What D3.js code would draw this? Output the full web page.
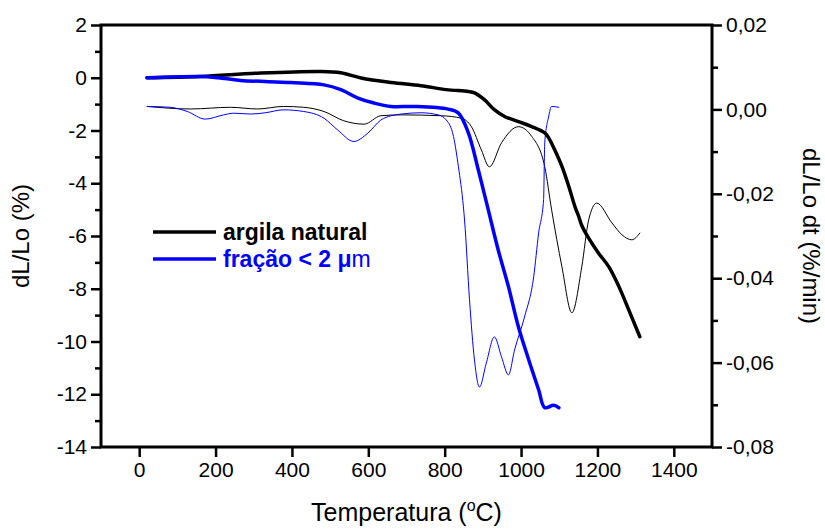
<!DOCTYPE html>
<html>
<head>
<meta charset="utf-8">
<script src="https://cdn.jsdelivr.net/npm/d3@7"></script>
<style>
  body { margin: 0; background: #fff; }
  svg { font-family: 'Liberation Sans', Arial, sans-serif; }
</style>
</head>
<body>
<div id="chart"></div>
<script>
// argila natural - dL/Lo (%) , left axis
const naturalT = [21, 160, 318, 476, 528, 581, 660, 738, 804, 862, 878, 904, 930, 957, 993, 1028, 1062, 1072, 1088, 1107, 1125, 1141, 1151, 1159, 1177, 1203, 1230, 1256, 1282, 1311]
const naturalL = [0.0, 0.05, 0.18, 0.24, 0.19, -0.01, -0.18, -0.30, -0.45, -0.52, -0.57, -0.83, -1.21, -1.47, -1.66, -1.85, -2.09, -2.27, -2.73, -3.36, -4.12, -4.88, -5.26, -5.6, -6.08, -6.65, -7.17, -7.91, -8.80, -9.82]

// argila natural - derivative (%/min), right axis
const naturalDT = [21, 134, 239, 310, 378, 431, 484, 536, 589, 633, 686, 791, 844, 870, 896, 917, 949, 993, 1028, 1062, 1080, 1107, 1133, 1159, 1177, 1198, 1238, 1264, 1290, 1311]
const naturalD = [0.0007, 0.0001, 0.0005, 0.0001, 0.0007, 0.0005, -0.0005, -0.0027, -0.0035, -0.0015, -0.0013, -0.0015, -0.0021, -0.0041, -0.0096, -0.0136, -0.0079, -0.0041, -0.0064, -0.0136, -0.0238, -0.0373, -0.0482, -0.0373, -0.0262, -0.0222, -0.0269, -0.0297, -0.0309, -0.0293]

// fracao < 2 um - dL/Lo (%), left axis
const fracaoT = [20, 160, 207, 265, 397, 484, 528, 573, 615, 660, 720, 809, 836, 862, 888, 914, 940, 967, 993, 1020, 1046, 1062, 1085, 1099]
const fracaoL = [0.0, 0.05, 0.0, -0.10, -0.18, -0.27, -0.45, -0.77, -0.96, -1.09, -1.09, -1.19, -1.34, -2.09, -3.49, -5.0, -6.52, -7.92, -9.44, -10.69, -11.83, -12.51, -12.42, -12.51]

// fracao < 2 um - derivative (%/min), right axis
const fracaoDT = [21, 81, 126, 173, 221, 247, 292, 330, 378, 431, 484, 520, 562, 599, 633, 660, 686, 738, 783, 804, 823, 836, 849, 852, 865, 878, 891, 909, 930, 949, 967, 983, 1009, 1033, 1046, 1059, 1062, 1072, 1080, 1099]
const fracaoD = [0.0007, 0.0005, -0.0005, -0.0023, -0.0013, -0.0009, -0.0011, -0.0008, -0.0001, -0.0005, -0.0021, -0.0049, -0.0076, -0.0056, -0.0025, -0.0015, -0.0011, -0.0008, -0.0013, -0.0025, -0.0064, -0.0136, -0.0231, -0.0262, -0.0451, -0.0594, -0.0658, -0.0601, -0.0539, -0.0587, -0.0629, -0.0570, -0.0492, -0.0397, -0.0293, -0.0214, -0.0079, -0.0018, 0.0007, 0.0005]

const xTicks = [0, 200, 400, 600, 800, 1000, 1200, 1400]
const yLeftTicks = [2, 0, -2, -4, -6, -8, -10, -12, -14]
const yLeftMinor = [1, -1, -3, -5, -7, -9, -11, -13]
const yRightTicks = [0.02, 0.00, -0.02, -0.04, -0.06, -0.08]
const yRightMinor = [0.01, -0.01, -0.03, -0.05, -0.07]

const dimensions = {
  width: 825,
  height: 530,
  margin: { top: 25, right: 113, bottom: 83, left: 101 }
}

const wrapper = d3.select('#chart').append('svg')
  .attr('width', dimensions.width)
  .attr('height', dimensions.height)

const x0 = dimensions.margin.left
const x1 = dimensions.width - dimensions.margin.right
const y0 = dimensions.margin.top
const y1 = dimensions.height - dimensions.margin.bottom

const xScale = d3.scaleLinear().domain([-100, 1500]).range([x0, x1])
const yLeft = d3.scaleLinear().domain([-14, 2]).range([y1, y0])
const yRight = d3.scaleLinear().domain([-0.08, 0.02]).range([y1, y0])

const comma = d3.formatLocale({ decimal: ',', thousands: '.', grouping: [3], currency: ['', ''], minus: '-' })

// curves
const lineL = d3.line()
  .x(d => xScale(d[0]))
  .y(d => yLeft(d[1]))
  .curve(d3.curveCatmullRom.alpha(0.5))
const lineR = d3.line()
  .x(d => xScale(d[0]))
  .y(d => yRight(d[1]))
  .curve(d3.curveMonotoneX)

const series = [
  { t: naturalDT, v: naturalD, line: lineR, color: '#000', w: 1 },
  { t: fracaoDT, v: fracaoD, line: lineR, color: '#0000ff', w: 1 },
  { t: naturalT, v: naturalL, line: lineL, color: '#000', w: 3.5 },
  { t: fracaoT, v: fracaoL, line: lineL, color: '#0000ff', w: 3.5 }
]

wrapper.append('g')
  .selectAll('path')
  .data(series)
  .join('path')
  .attr('fill', 'none')
  .attr('stroke', d => d.color)
  .attr('stroke-width', d => d.w)
  .attr('stroke-linejoin', 'round')
  .attr('stroke-linecap', 'round')
  .attr('d', d => d.line(d.t.map((t, i) => [t, d.v[i]])))

// axes
function styleAxis (g) {
  g.select('.domain').remove()
  g.selectAll('.tick line').attr('stroke', '#000').attr('stroke-width', 2.5)
  g.selectAll('.tick text').attr('fill', '#000').style('font-size', '21px')
}

wrapper.append('g')
  .attr('transform', `translate(0, ${y1})`)
  .call(d3.axisBottom(xScale).tickValues(xTicks).tickSize(10).tickPadding(5).tickFormat(d3.format('d')))
  .call(styleAxis)

wrapper.append('g')
  .attr('transform', `translate(${x0}, 0)`)
  .call(d3.axisLeft(yLeft).tickValues(yLeftTicks).tickSize(10).tickPadding(4).tickFormat(comma.format('d')))
  .call(styleAxis)
wrapper.append('g')
  .attr('transform', `translate(${x0}, 0)`)
  .call(d3.axisLeft(yLeft).tickValues(yLeftMinor).tickSize(6).tickFormat(''))
  .call(styleAxis)

wrapper.append('g')
  .attr('transform', `translate(${x1}, 0)`)
  .call(d3.axisRight(yRight).tickValues(yRightTicks).tickSize(10).tickPadding(4).tickFormat(comma.format('.2f')))
  .call(styleAxis)
wrapper.append('g')
  .attr('transform', `translate(${x1}, 0)`)
  .call(d3.axisRight(yRight).tickValues(yRightMinor).tickSize(6).tickFormat(''))
  .call(styleAxis)

// frame
wrapper.append('rect')
  .attr('x', x0)
  .attr('y', y0)
  .attr('width', x1 - x0)
  .attr('height', y1 - y0)
  .attr('fill', 'none')
  .attr('stroke', '#000')
  .attr('stroke-width', 3)

// axis titles
const xTitle = wrapper.append('text')
  .attr('x', (x0 + x1) / 2)
  .attr('y', 521)
  .attr('text-anchor', 'middle')
  .style('font-size', '25px')
xTitle.append('tspan').text('Temperatura (')
xTitle.append('tspan').text('o').attr('dy', -10).style('font-size', '16px')
xTitle.append('tspan').text('C)').attr('dy', 10)

wrapper.append('text')
  .attr('transform', `translate(29, ${(y0 + y1) / 2}) rotate(-90)`)
  .attr('text-anchor', 'middle')
  .style('font-size', '24px')
  .text('dL/Lo (%)')

wrapper.append('text')
  .attr('transform', `translate(803, ${(y0 + y1) / 2}) rotate(90)`)
  .attr('text-anchor', 'middle')
  .style('font-size', '24px')
  .text('dL/Lo dt (%/min)')

// legend
const legend = wrapper.append('g')
legend.append('line')
  .attr('x1', 153).attr('x2', 216).attr('y1', 232).attr('y2', 232)
  .attr('stroke', '#000').attr('stroke-width', 3.5)
legend.append('text')
  .attr('x', 223).attr('y', 240)
  .style('font-size', '23px').style('font-weight', 'bold')
  .text('argila natural')
legend.append('line')
  .attr('x1', 153).attr('x2', 216).attr('y1', 259).attr('y2', 259)
  .attr('stroke', '#0000ff').attr('stroke-width', 3.5)
const blueText = legend.append('text')
  .attr('x', 223).attr('y', 267)
  .attr('fill', '#0000ff')
  .style('font-size', '23px')
blueText.append('tspan').style('font-weight', 'bold').text('fração < 2 μ')
blueText.append('tspan').text('m')
</script>
</body>
</html>
